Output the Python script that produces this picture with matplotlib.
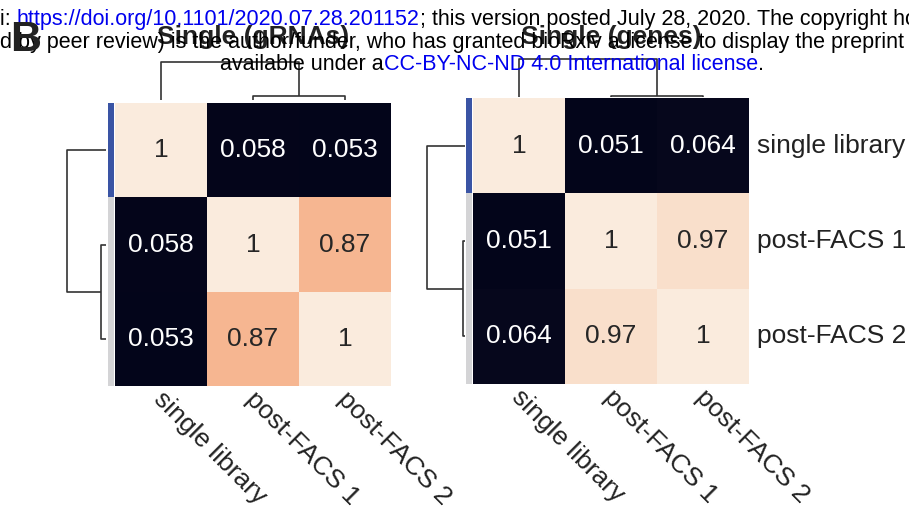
import numpy as np
import matplotlib
matplotlib.use("Agg")
import matplotlib.pyplot as plt
import seaborn as sns

W, H = 909, 513

# data
labels = ["single library", "post-FACS 1", "post-FACS 2"]
corr_grnas = np.array([[1.0, 0.058, 0.053],
                       [0.058, 1.0, 0.87],
                       [0.053, 0.87, 1.0]])
corr_genes = np.array([[1.0, 0.051, 0.064],
                       [0.051, 1.0, 0.97],
                       [0.064, 0.97, 1.0]])
row_colors = ["#3a54a4", "#d4d4d6", "#d4d4d6"]
titles = ["Single (gRNAs)", "Single (genes)"]

plt.rcParams["font.family"] = ["Liberation Sans", "DejaVu Sans"]

fig = plt.figure(figsize=(W / 100, H / 100), dpi=100)


def px_axes(x0, y0, x1, y1):
    # pixel box measured from the top-left corner
    return fig.add_axes([x0 / W, 1 - y1 / H, (x1 - x0) / W, (y1 - y0) / H])


def upgma(mat):
    # average linkage on euclidean distances between rows
    n = len(mat)
    members = {i: [i] for i in range(n)}
    active = list(range(n))
    merges = []
    nid = n
    while len(active) > 1:
        best = None
        for i, a in enumerate(active):
            for b in active[i + 1:]:
                d = np.mean([np.linalg.norm(mat[p] - mat[q])
                             for p in members[a] for q in members[b]])
                if best is None or d < best[2]:
                    best = (a, b, d)
        a, b, d = best
        merges.append(best)
        members[nid] = members[a] + members[b]
        active = [c for c in active if c not in (a, b)] + [nid]
        nid += 1
    return merges


def dendro_segments(mat):
    n = len(mat)
    merges = upgma(mat)
    node = {n + k: m for k, m in enumerate(merges)}
    order = []

    def walk(c):
        if c < n:
            order.append(c)
        else:
            walk(node[c][0])
            walk(node[c][1])
    walk(n + len(merges) - 1)
    pos = {leaf: i + 0.5 for i, leaf in enumerate(order)}
    hgt = {i: 0.0 for i in range(n)}
    segs = []
    for k, (a, b, d) in enumerate(merges):
        c = n + k
        segs.append(([pos[a], pos[a], pos[b], pos[b]], [hgt[a], d, d, hgt[b]]))
        pos[c] = (pos[a] + pos[b]) / 2
        hgt[c] = d
    return segs, max(hgt.values())


def panel(mat, title, heat_box, rc_box, rd_box, cd_box, show_rows):
    ax = px_axes(*heat_box)
    sns.heatmap(mat, ax=ax, cmap="rocket", annot=True, fmt=".2g", cbar=False,
                annot_kws={"size": 19}, xticklabels=labels,
                yticklabels=labels if show_rows else False)
    ax.tick_params(axis="both", length=0)
    ax.set_xticklabels(labels, rotation=-45, ha="left", va="top",
                       rotation_mode="anchor", fontsize=19, color="#222222")
    ax.tick_params(axis="x", pad=1)
    for lab in ax.get_xticklabels():
        lab.set_x(lab.get_position()[0])
    if show_rows:
        ax.tick_params(axis="y", left=False, right=False, labelleft=False,
                       labelright=True, pad=6)
        ax.set_yticklabels(labels, rotation=0, fontsize=19, color="#222222",
                           va="center")

    rc = px_axes(*rc_box)
    rgb = np.array([matplotlib.colors.to_rgb(c) for c in row_colors])[:, None, :]
    rc.imshow(rgb, aspect="auto", extent=(0, 1, len(labels), 0))
    rc.set_axis_off()

    segs, top = dendro_segments(mat)
    rd = px_axes(*rd_box)
    cd = px_axes(*cd_box)
    for xs, ys in segs:
        rd.plot(ys, xs, color="0.2", lw=1.2, solid_capstyle="butt")
        cd.plot(xs, ys, color="0.2", lw=1.2, solid_capstyle="butt")
    rd.set_xlim(top * 1.05, 0)
    rd.set_ylim(len(labels), 0)
    cd.set_ylim(0, top * 1.05)
    cd.set_xlim(0, len(labels))
    rd.set_axis_off()
    cd.set_axis_off()

    cx = (heat_box[0] + heat_box[2]) / 2
    fig.text(cx / W, 1 - 44 / H, title, ha="center", va="baseline",
             fontsize=19, fontweight="bold", color="#222222")
    return ax


ax1 = panel(corr_grnas, titles[0], (115, 103, 391, 386), (108, 103, 114, 386),
            (65, 103, 106, 386), (115, 60.4, 391, 100), False)
ax2 = panel(corr_genes, titles[1], (473, 98, 749, 384), (466, 98, 472, 384),
            (425, 98, 464.5, 384), (473, 57.4, 749, 96.7), True)

# nudge the rotated column labels a few pixels right, as in the source
import matplotlib.transforms as mtransforms
shift = mtransforms.ScaledTranslation(5 / 100, 0, fig.dpi_scale_trans)
for ax in (ax1, ax2):
    for lab in ax.get_xticklabels():
        lab.set_transform(lab.get_transform() + shift)

# preprint header overlapping the top of the figure
hdr = 15.5
blue = "#0000ee"
t = fig.text(0, 1 - 25 / H, "i: ", fontsize=hdr, va="baseline")
t = plt.annotate("https://doi.org/10.1101/2020.07.28.201152", xy=(1, 0),
                 xycoords=t, va="bottom", ha="left", fontsize=hdr, color=blue,
                 annotation_clip=False)
plt.annotate("; this version posted July 28, 2020. The copyright ho",
             xy=(1, 0), xycoords=t, va="bottom", ha="left", fontsize=hdr,
             annotation_clip=False)
fig.text(0, 1 - 48 / H,
         "d by peer review) is the author/funder, who has granted bioRxiv a license to display the preprint i",
         fontsize=hdr, va="baseline")
t = fig.text(220 / W, 1 - 70 / H, "available under a", fontsize=hdr,
             va="baseline")
t = plt.annotate("CC-BY-NC-ND 4.0 International license", xy=(1, 0),
                 xycoords=t, va="bottom", ha="left", fontsize=hdr, color=blue,
                 annotation_clip=False)
plt.annotate(".", xy=(1, 0), xycoords=t, va="bottom", ha="left", fontsize=hdr,
             annotation_clip=False)

fig.text(10 / W, 1 - 51 / H, "B", fontsize=31, fontweight="bold",
         va="baseline", color="#222222")

fig.savefig("out.png", dpi=100)
